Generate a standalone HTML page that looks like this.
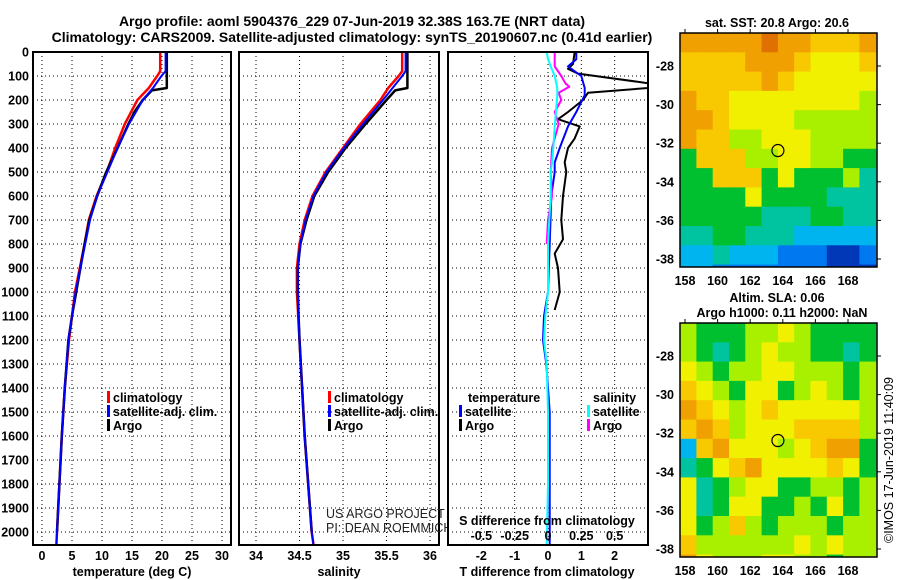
<!DOCTYPE html>
<html><head><meta charset="utf-8">
<style>
html,body{margin:0;padding:0;background:#fff;width:900px;height:580px;overflow:hidden;}
svg{display:block;font-family:"Liberation Sans",Arial,sans-serif;}
.b{font-weight:bold;font-size:14px;}
.t{font-weight:bold;font-size:12.5px;}
</style></head>
<body>
<svg id="fig" width="900" height="580" viewBox="0 0 900 580">
<text x="352" y="26" text-anchor="middle" class="b">Argo profile: aoml 5904376_229 07-Jun-2019 32.38S 163.7E (NRT data)</text>
<text x="352" y="42" text-anchor="middle" class="b">Climatology: CARS2009. Satellite-adjusted climatology: synTS_20190607.nc (0.41d earlier)</text>
<g id="g"></g>
</svg>
<script>
// ---------- data ----------
const depthTicks=[0,100,200,300,400,500,600,700,800,900,1000,1100,1200,1300,1400,1500,1600,1700,1800,1900,2000];
const tTicks=[0,5,10,15,20,25,30];
const sTicks=[34,34.5,35,35.5,36];
const dTTicks=[-2,-1,0,1,2];
const dSTicks=[-0.5,-0.25,0,0.25,0.5];
const dSTickLabels=["-0.5","-0.25","0","0.25","0.5"];
const climDepth=[0,80,100,150,200,300,400,500,600,700,800,900,1000,1200,1400,1600,1800,2000,2050];
const climT=[19.7,19.7,19.2,17.8,15.9,13.8,12.2,10.8,9.1,7.8,7.1,6.3,5.5,4.5,3.8,3.3,2.9,2.5,2.4];
const satT=[20.6,20.6,19.9,18.5,16.8,14.5,12.6,10.9,9.2,8.0,7.2,6.4,5.6,4.4,3.8,3.3,2.9,2.5,2.4];
const climS=[35.68,35.68,35.64,35.52,35.43,35.2,35.0,34.8,34.65,34.56,34.5,34.47,34.47,34.5,34.53,34.56,34.6,34.64,34.66];
const satS=[35.72,35.72,35.68,35.57,35.46,35.23,35.01,34.81,34.66,34.57,34.51,34.48,34.48,34.5,34.53,34.56,34.6,34.64,34.66];
const argoDepth=[0,150,160,200,250,300,400,500,600,700,800,900,1000,1100,1200,1400,1600,1800,2000];
const argoT=[20.8,20.8,18.3,16.8,15.4,14.4,12.6,10.7,9.2,7.9,7.1,6.4,5.7,5.0,4.4,3.8,3.3,2.9,2.5];
const argoS=[35.74,35.74,35.6,35.5,35.38,35.26,35.03,34.83,34.67,34.58,34.51,34.48,34.48,34.49,34.5,34.53,34.56,34.6,34.64];
const dDepth=[0,50,70,90,130,150,170,200,250,280,310,360,400,460,500,600,700,780,840,900,1000,1075];
const dTArgo=[0.8,0.75,0.6,0.9,3.0,3.0,1.2,1.05,0.6,0.3,0.95,0.8,0.6,0.5,0.55,0.45,0.4,0.45,0.2,0.3,0.35,0.2];
const dTsDepth=[0,30,60,100,150,180,250,310,400,460,500,600,800,1000,1100,1200,1300,1500,1800,2050];
const dTsat=[0.85,0.85,0.6,1.0,1.1,1.1,0.85,0.6,0.35,0.2,0.2,0.1,0.05,0.0,-0.12,-0.15,-0.05,0.05,0.05,0.05];
const dSsat=[-0.01,0.0,0.02,0.05,0.07,0.07,0.06,0.05,0.04,0.03,0.02,0.02,0.0,0.0,-0.02,-0.03,-0.01,0.0,0.0,-0.01];
const dSArgoDepth=[0,60,100,130,145,170,200,250,300,400,500,600,700,800];
const dSArgo=[0.05,0.05,0.1,0.13,0.16,0.08,0.1,0.05,0.08,0.03,0.02,0.03,0.0,-0.01];
const lonTicks=[158,160,162,164,166,168];
const latTicks=[-28,-30,-32,-34,-36,-38];
const palette=["#0038b8","#0078f0","#00b4f0","#00c4a0","#00c030","#a8f000","#f0f000","#f8c800","#f0a000","#e07000"];
const sstGrid=[
[8,8,8,8,8,9,8,8,7,7,7,8],
[7,7,7,7,8,8,8,7,6,6,6,7],
[7,7,7,7,7,8,7,6,6,6,6,6],
[8,7,7,6,6,6,6,6,6,6,6,5],
[8,8,7,6,6,6,6,5,5,5,5,5],
[8,7,7,5,5,6,6,6,5,5,5,5],
[4,7,7,7,5,5,6,6,5,5,4,4],
[4,4,7,7,7,4,6,4,4,4,5,3],
[4,4,4,4,6,4,4,4,4,3,3,3],
[4,4,4,4,4,3,3,3,4,4,3,3],
[3,3,4,4,3,3,3,2,2,2,2,2],
[2,2,3,2,2,2,1,1,1,0,0,1],
[2,2,1,1,1,1,1,1,1,0,0,0]];
const slaGrid=[
[5,4,4,4,5,5,6,5,4,4,4,4],
[5,4,3,4,5,6,5,5,4,4,3,4],
[6,5,4,5,5,6,6,5,5,5,4,5],
[7,6,5,4,6,6,4,5,6,5,4,5],
[8,7,6,5,6,7,6,6,6,6,6,5],
[7,8,7,5,6,6,6,7,7,7,7,5],
[2,7,8,6,6,6,5,6,7,8,8,4],
[3,4,6,7,8,6,6,6,6,7,6,4],
[6,3,4,5,6,6,4,4,5,5,4,5],
[6,3,4,6,6,4,4,5,4,6,4,5],
[6,4,5,7,5,4,5,5,5,4,5,5],
[7,5,5,5,5,5,5,6,5,6,5,5],
[8,6,5,5,5,6,6,5,5,4,5,5]];
const argoLon=163.7, argoLat=-32.38;

// ---------- helpers ----------
const NS="http://www.w3.org/2000/svg";
const G=document.getElementById('g');
function mk(tag,at,parent){const e=document.createElementNS(NS,tag);for(const k in at)e.setAttribute(k,at[k]);(parent||G).appendChild(e);return e;}
const yD=d=>52+d*0.24;
const P1={x0:33,x1:231},P2={x0:239,x1:439},P3={x0:448,x1:648};
const xT=t=>42+6*t;
const xS=s=>256+87*(s-34);
const xdT=t=>548+33.33*t;
const xdS=s=>548+133.3*s;
const TOP=52,BOT=545;

function panel(P,name,vx,xfn){
  const r=mk('rect',{x:P.x0,y:TOP,width:P.x1-P.x0,height:BOT-TOP,fill:'#fff'});
  
  
  depthTicks.forEach(d=>{
    const l=mk('line',{x1:P.x0,x2:P.x1,y1:yD(d),y2:yD(d),stroke:'#000','stroke-dasharray':'1 3','stroke-width':1});
    
    
  });
  vx.forEach(v=>{
    const l=mk('line',{x1:xfn(v),x2:xfn(v),y1:TOP,y2:BOT,stroke:'#000','stroke-dasharray':'1 3','stroke-width':1});
    
    
  });
}
function line(xs,ds,xfn,col,w,name,clip){
  const pts=xs.map((v,i)=>xfn(v).toFixed(1)+','+yD(ds[i]).toFixed(1)).join(' ');
  const at={points:pts,fill:'none',stroke:col,'stroke-width':w,'stroke-linejoin':'round'};
  if(clip)at['clip-path']=clip;
  const p=mk('polyline',at);
  
  
}
function frame(P,name){
  const r=mk('rect',{x:P.x0,y:TOP,width:P.x1-P.x0,height:BOT-TOP,fill:'none',stroke:'#000','stroke-width':2});
  
  
}
function txt(x,y,s,cls,anchor,name,extra){
  const t=mk('text',Object.assign({x:x,y:y,'text-anchor':anchor||'start'},extra||{}));
  if(cls)t.setAttribute('class',cls);
  t.textContent=s;
  
  
  return t;
}
function legend(x,y,col,label,name){
  const r=mk('rect',{x:x,y:y-11,width:3,height:12,fill:col});
  
  
  txt(x+6,y,label,'t','start',name);
}

const defs=mk('defs',{});
const cp=mk('clipPath',{id:'c3'},defs);
mk('rect',{x:P3.x0,y:TOP,width:P3.x1-P3.x0,height:BOT-TOP},cp);

// ---------- panel 1 ----------
panel(P1,'temperature-panel',tTicks,xT);
line(climT,climDepth,xT,'#ff0000',2.5,'climatology-temperature-line');
line(argoT,argoDepth,xT,'#000',2.5,'argo-temperature-line');
line(satT,climDepth,xT,'#0000ff',2,'satellite-temperature-line');
frame(P1,'temperature-panel');
depthTicks.forEach(d=>txt(29,yD(d)+4.5,String(d),'t','end','depth-tick-label'));
tTicks.forEach(t=>txt(xT(t),560,String(t),'t','middle','temperature-tick-label'));
txt(132,576,'temperature (deg C)','t','middle','temperature-axis-title');
legend(107,402,'#ff0000','climatology','legend-climatology');
legend(107,416,'#0000ff','satellite-adj. clim.','legend-satellite-adj');
legend(107,430,'#000','Argo','legend-argo');

// ---------- panel 2 ----------
panel(P2,'salinity-panel',sTicks,xS);
line(climS,climDepth,xS,'#ff0000',2.5,'climatology-salinity-line');
line(argoS,argoDepth,xS,'#000',2.5,'argo-salinity-line');
line(satS,climDepth,xS,'#0000ff',2,'satellite-salinity-line');
frame(P2,'salinity-panel');
sTicks.forEach(s=>txt(xS(s),560,String(s),'t','middle','salinity-tick-label'));
txt(339,576,'salinity','t','middle','salinity-axis-title');
legend(328,402,'#ff0000','climatology','legend2-climatology');
legend(328,416,'#0000ff','satellite-adj. clim.','legend2-satellite-adj');
legend(328,430,'#000','Argo','legend2-argo');
txt(326,518,'US ARGO PROJECT',null,'start','project-credit',{'font-size':'12.5','fill':'#222'});
txt(326,532,'PI: DEAN ROEMMICH',null,'start','pi-credit',{'font-size':'12.5','fill':'#222'});

// ---------- panel 3 ----------
panel(P3,'difference-panel',dTTicks,xdT);
line(dTArgo,dDepth,xdT,'#000',2,'argo-temperature-difference-line','url(#c3)');
line(dTsat,dTsDepth,xdT,'#0000ff',2,'satellite-temperature-difference-line','url(#c3)');
line(dSArgo,dSArgoDepth,xdS,'#ff00ff',2,'argo-salinity-difference-line','url(#c3)');
line(dSsat,dTsDepth,xdS,'#00ffff',2,'satellite-salinity-difference-line','url(#c3)');
frame(P3,'difference-panel');
dTTicks.forEach(t=>txt(xdT(t),560,String(t),'t','middle','t-difference-tick-label'));
dSTicks.forEach((s,i)=>txt(xdS(s),540,dSTickLabels[i],'t','middle','s-difference-tick-label'));
txt(547,525,'S difference from climatology','t','middle','s-difference-axis-title');
txt(547,576,'T difference from climatology','t','middle','t-difference-axis-title');
txt(468,402,'temperature','t','start','legend3-temperature-header');
txt(593,402,'salinity','t','start','legend3-salinity-header');
legend(459,416,'#0000ff','satellite','legend3-temp-satellite');
legend(459,430,'#000','Argo','legend3-temp-argo');
legend(587,416,'#00ffff','satellite','legend3-sal-satellite');
legend(587,430,'#ff00ff','Argo','legend3-sal-argo');

// ---------- maps ----------
function map(y0,y1,lat28y,lat38y,grid,name){
  const X0=680,X1=877;
  const ppd=(lat38y-lat28y)/10;
  const xL=lon=>685+(lon-158)*16.3;
  const yL=lat=>lat28y+(-28-lat)*ppd;
  const topLat=-28+(lat28y-y0)/ppd;
  const cpm=mk('clipPath',{id:'cm'+name},defs);
  mk('rect',{x:X0,y:y0,width:X1-X0,height:y1-y0},cpm);
  const gg=mk('g',{'clip-path':'url(#cm'+name+')'});
  
  
  grid.forEach((row,r)=>row.forEach((v,c)=>{
    const lon=157.7+c, lat=topLat-r;
    const x=xL(lon), y=yL(lat);
    const rc=mk('rect',{x:x.toFixed(1),y:y.toFixed(1),width:(16.3+0.6).toFixed(1),height:(ppd+0.6).toFixed(1),fill:palette[v]},gg);
    
    
  }));
  const fr=mk('rect',{x:X0,y:y0,width:X1-X0,height:y1-y0,fill:'none',stroke:'#000','stroke-width':1.5});
  
  
  lonTicks.forEach(l=>{
    mk('line',{x1:xL(l),x2:xL(l),y1:y0-4,y2:y0,stroke:'#000'});
    txt(xL(l),y1+18,String(l),'t','middle',name+'-lon-tick-label');
  });
  latTicks.forEach(l=>{
    mk('line',{x1:X1,x2:X1+4,y1:yL(l),y2:yL(l),stroke:'#000'});
    txt(674,yL(l)+4.5,String(l),'t','end',name+'-lat-tick-label');
  });
  const c=mk('circle',{cx:xL(argoLon),cy:yL(argoLat),r:6,fill:'none',stroke:'#000','stroke-width':1.2});
  
  
}
map(33,267,66,259,sstGrid,'sst-map');
map(323,557,356,549,slaGrid,'sla-map');
txt(777,27,'sat. SST: 20.8 Argo: 20.6','t','middle','sst-map-title');
txt(777,302,'Altim. SLA: 0.06','t','middle','sla-map-title');
txt(782,317,'Argo h1000: 0.11 h2000: NaN','t','middle','sla-map-subtitle');
txt(893,460,'©IMOS 17-Jun-2019 11:40:09',null,'middle','imos-timestamp',{'font-size':'12.5',transform:'rotate(-90 893 460)'});
</script>
</body></html>
